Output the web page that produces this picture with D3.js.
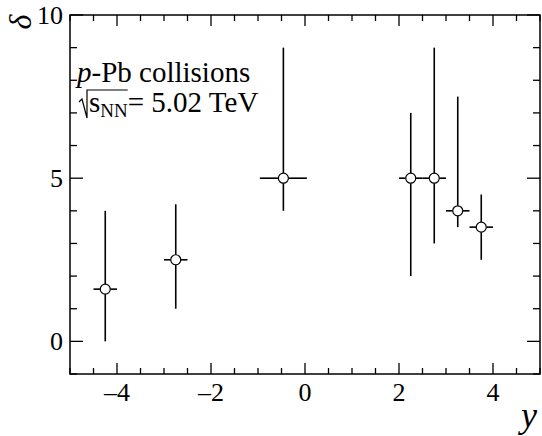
<!DOCTYPE html>
<html>
<head>
<meta charset="utf-8">
<script src="https://cdn.jsdelivr.net/npm/d3@7"></script>
<style>
  body { margin: 0; background: #fff; }
</style>
</head>
<body>
<svg id="chart" width="542" height="436" font-family="'Liberation Serif', 'Times New Roman', serif"></svg>
<script>
// data
let xVals = [-4.25, -2.75, -0.46, 2.25, 2.75, 3.25, 3.75];
let xErr = [0.25, 0.25, 0.5, 0.25, 0.25, 0.25, 0.25];
let yVals = [1.6, 2.5, 5, 5, 5, 4, 3.5];
let yLow = [0, 1.0, 4, 2, 3, 3.5, 2.5];
let yHigh = [4, 4.2, 9, 7, 9, 7.5, 4.5];
let xTicks = [-4, -2, 0, 2, 4];
let yTicks = [0, 5, 10];

let svg = d3.select("#chart");
let plotLeft = 70, plotRight = 540, plotTop = 15, plotBottom = 374;

let xScale = d3.scaleLinear().domain([-5, 5]).range([plotLeft, plotRight]);
let yScale = d3.scaleLinear().domain([-1, 10]).range([plotBottom, plotTop]);

// frame
svg.append("rect")
  .attr("x", plotLeft).attr("y", plotTop)
  .attr("width", plotRight - plotLeft).attr("height", plotBottom - plotTop)
  .attr("fill", "none").attr("stroke", "#000").attr("stroke-width", 1.5);

// ticks (inside, ROOT style)
let xMinor = d3.range(-5, 5.01, 0.5);
let yMinor = d3.range(-1, 10.01, 1);
let tickG = svg.append("g").attr("stroke", "#000").attr("stroke-width", 1.3);
xMinor.forEach(v => {
  let len = xTicks.includes(v) ? 11 : 6;
  tickG.append("line").attr("x1", xScale(v)).attr("x2", xScale(v))
    .attr("y1", plotBottom).attr("y2", plotBottom - len);
  tickG.append("line").attr("x1", xScale(v)).attr("x2", xScale(v))
    .attr("y1", plotTop).attr("y2", plotTop + len);
});
yMinor.forEach(v => {
  let len = yTicks.includes(v) ? 13 : 7;
  tickG.append("line").attr("y1", yScale(v)).attr("y2", yScale(v))
    .attr("x1", plotLeft).attr("x2", plotLeft + len);
  tickG.append("line").attr("y1", yScale(v)).attr("y2", yScale(v))
    .attr("x1", plotRight).attr("x2", plotRight - len);
});

// tick labels
svg.selectAll(".xl").data(xTicks).enter().append("text")
  .attr("x", d => xScale(d)).attr("y", plotBottom + 27)
  .attr("text-anchor", "middle").attr("font-size", 26)
  .text(d => d < 0 ? "\u2013" + Math.abs(d) : d);
svg.selectAll(".yl").data(yTicks).enter().append("text")
  .attr("x", plotLeft - 7).attr("y", d => yScale(d) + 9)
  .attr("text-anchor", "end").attr("font-size", 26)
  .text(d => d);

// axis titles
svg.append("g").attr("transform", "translate(31,22)")
  .append("text")
  .attr("transform", "rotate(-90)")
  .attr("text-anchor", "middle").attr("font-size", 32).attr("font-style", "italic")
  .text("\u03b4");
svg.append("text")
  .attr("x", plotRight - 3).attr("y", 427)
  .attr("text-anchor", "end").attr("font-size", 36).attr("font-style", "italic")
  .text("y");

// error bars and markers
let pts = xVals.map((x, i) => ({x: x, ex: xErr[i], y: yVals[i], lo: yLow[i], hi: yHigh[i]}));
let r = 5;
let g = svg.append("g").attr("stroke", "#000").attr("stroke-width", 1.6);
pts.forEach(d => {
  let cx = xScale(d.x), cy = yScale(d.y);
  g.append("line").attr("x1", xScale(d.x - d.ex)).attr("x2", cx - r).attr("y1", cy).attr("y2", cy);
  g.append("line").attr("x1", cx + r).attr("x2", xScale(d.x + d.ex)).attr("y1", cy).attr("y2", cy);
  g.append("line").attr("x1", cx).attr("x2", cx).attr("y1", yScale(d.hi)).attr("y2", cy - r);
  g.append("line").attr("x1", cx).attr("x2", cx).attr("y1", cy + r).attr("y2", yScale(d.lo));
  g.append("circle").attr("cx", cx).attr("cy", cy).attr("r", r)
    .attr("fill", "#fff").attr("stroke-width", 1.2);
});

// legend text
let t1 = svg.append("text").attr("x", 77).attr("y", 82).attr("font-size", 29);
t1.append("tspan").attr("font-style", "italic").text("p");
t1.append("tspan").text("-Pb collisions");

let sx = 89, sy = 112;
let s = svg.append("text").attr("x", sx).attr("y", sy).attr("font-size", 29);
s.append("tspan").text("s");
s.append("tspan").attr("font-size", 19).attr("dy", 5).text("NN");
let sw = s.node().getComputedTextLength();
svg.append("path")
  .attr("d", `M${sx - 10},${sy - 10} L${sx - 7},${sy - 13} L${sx - 2},${sy + 6} L${sx - 2},${sy - 22} L${sx + sw},${sy - 22}`)
  .attr("fill", "none").attr("stroke", "#000").attr("stroke-width", 1.2);
svg.append("text").attr("x", sx + sw).attr("y", sy).attr("font-size", 29)
  .text("= 5.02 TeV");
</script>
</body>
</html>
